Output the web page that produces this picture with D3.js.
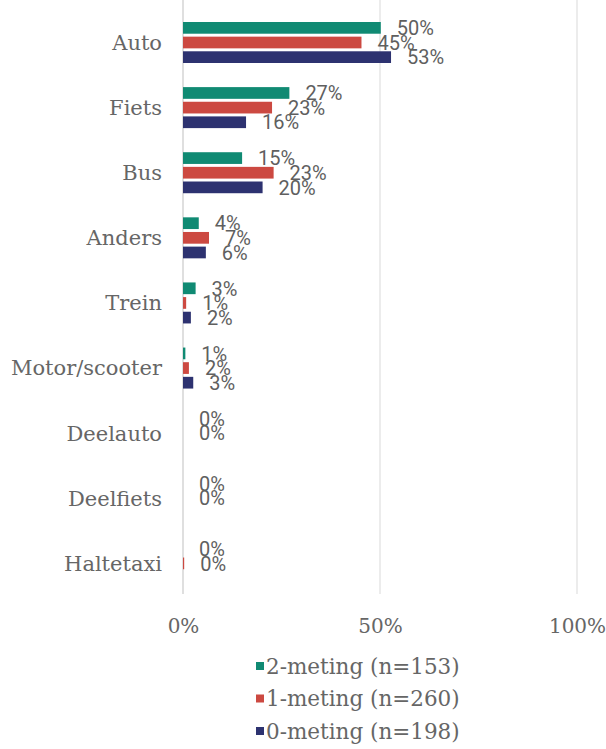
<!DOCTYPE html>
<html><head><meta charset="utf-8">
<script src="https://cdn.jsdelivr.net/npm/d3@7"></script>
<style>body{margin:0;background:#fff}svg{display:block}</style>
</head><body><svg id="c" width="606" height="749"></svg>
<script>
const categories = ["Auto","Fiets","Bus","Anders","Trein","Motor/scooter","Deelauto","Deelfiets","Haltetaxi"];
const seriesNames = ["2-meting (n=153)","1-meting (n=260)","0-meting (n=198)"];
const meting2 = [50.2, 27.0, 15.0, 4.0, 3.2, 0.6, 0, 0, 0];
const meting1 = [45.3, 22.6, 23.0, 6.6, 0.8, 1.5, 0, 0, 0.3];
const meting0 = [52.8, 16.0, 20.2, 5.8, 2.0, 2.6, null, null, null];
const seriesColors = ["#108a73","#cc4941","#2d3270"];
const xTicks = [0, 50, 100];

const values = [meting2, meting1, meting0];
const svg = d3.select("#c");
const x = d3.scaleLinear().domain([0,100]).range([183,577]);
const y = d3.scaleBand().domain(categories).range([10,596]).padding(0);
const sub = d3.scaleBand().domain(d3.range(3)).range([12,53]).paddingInner(0.2).paddingOuter(0);

// gridlines
svg.append("g").selectAll("line").data(xTicks.slice(1)).join("line")
  .attr("x1",d=>x(d)).attr("x2",d=>x(d)).attr("y1",0).attr("y2",594)
  .attr("stroke","#d9d9d9").attr("stroke-width",1);
svg.append("line").attr("x1",x(0)).attr("x2",x(0)).attr("y1",0).attr("y2",594)
  .attr("stroke","#bfbfbf").attr("stroke-width",1);

const fmt = v => Math.round(v) + "%";
categories.forEach((c,i)=>{
  values.forEach((arr,s)=>{
    const v = arr[i];
    if (v === null) return;
    const yy = y(c) + sub(s);
    svg.append("rect").attr("x",x(0)).attr("y",yy)
      .attr("width",Math.max(0,x(v)-x(0))).attr("height",sub.bandwidth())
      .attr("fill",seriesColors[s]);
    svg.append("text").attr("x",x(v)+16).attr("y",yy+sub.bandwidth()/2)
      .attr("dy","0.36em").attr("font-family","Roboto, sans-serif").attr("font-size",20)
      .attr("fill","#5f5f5f").text(fmt(v));
  });
});

// category labels
svg.append("g").selectAll("text").data(categories).join("text")
  .attr("x",162).attr("y",d=>y(d)+y.bandwidth()/2)
  .attr("dy","0.35em").attr("text-anchor","end")
  .attr("font-family","'DejaVu Serif', serif").attr("font-size",21)
  .attr("fill","#666").text(d=>d);

// x axis tick labels
const xAxis = d3.axisBottom(x).tickValues(xTicks).tickFormat(d=>d+"%").tickSize(0).tickPadding(0);
const ax = svg.append("g").attr("transform","translate(0,626)").call(xAxis);
ax.select(".domain").remove();
ax.selectAll("text").attr("dy","0.35em").attr("font-family","'DejaVu Serif', serif")
  .attr("font-size",20).attr("fill","#666");

// legend
const lg = svg.append("g").selectAll("g").data(seriesNames).join("g")
  .attr("transform",(d,i)=>`translate(256,${666+i*32.5})`);
lg.append("rect").attr("x",0).attr("y",-4).attr("width",8).attr("height",8)
  .attr("fill",(d,i)=>seriesColors[i]);
lg.append("text").attr("x",10).attr("y",0).attr("dy","0.35em")
  .attr("font-family","'DejaVu Serif', serif").attr("font-size",21.5)
  .attr("fill","#666").text(d=>d);
</script></body></html>
